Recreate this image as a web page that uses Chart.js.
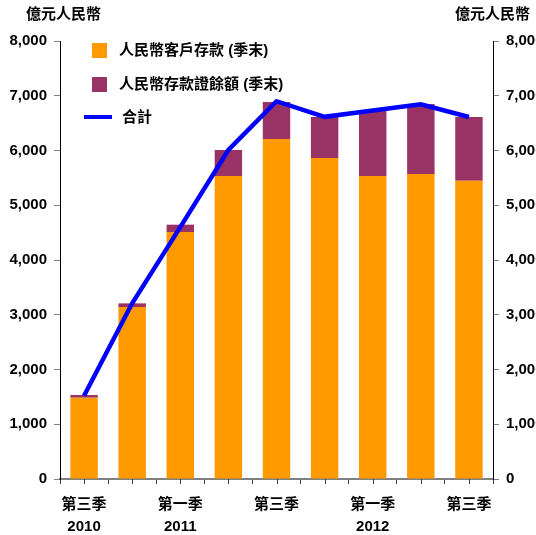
<!DOCTYPE html>
<html>
<head>
<meta charset="utf-8">
<script src="https://cdn.jsdelivr.net/npm/chart.js@4"></script>
<style>
  html, body { margin: 0; padding: 0; background: #fff; overflow: hidden; }
  #wrap { width: 536px; height: 535px; overflow: hidden; position: relative; }
  canvas { display: block; }
</style>
</head>
<body>
<div id="wrap"><canvas id="chart" width="580" height="535"></canvas></div>
<script>
// 2010 Q3 .. 2012 Q3
const quarters = ["第三季", "", "第一季", "", "第三季", "", "第一季", "", "第三季"];
const years = ["2010", "", "2011", "", "", "", "2012", "", ""];

// 億元人民幣
const customerDeposits = [1485, 3141, 4511, 5534, 6210, 5863, 5534, 5571, 5449];
const certificatesOfDeposit = [49, 67, 134, 475, 676, 749, 1193, 1278, 1163];
const totals = [1520, 3210, 4600, 6009, 6900, 6615, 6730, 6845, 6612];

const yTicks = [0, 1000, 2000, 3000, 4000, 5000, 6000, 7000, 8000];

const FONT = '"Liberation Sans", Arial, "Noto Sans CJK TC", sans-serif';
const ORANGE = "#FF9900";
const PURPLE = "#993366";
const BLUE = "#0000FF";

const labels = quarters.map((q, i) => [q, years[i]]);

// Unit titles, legend and the half-step tick marks on the x axis
const extras = {
  id: "extras",
  afterDraw(chart) {
    const ctx = chart.ctx;
    const xs = chart.scales.x;
    ctx.save();

    ctx.strokeStyle = "#404040";
    ctx.lineWidth = 1;
    labels.forEach((_, i) => {
      const px = Math.round(xs.getPixelForValue(i)) + 0.5;
      ctx.beginPath();
      ctx.moveTo(px, xs.top);
      ctx.lineTo(px, xs.top + 5);
      ctx.stroke();
    });

    ctx.fillStyle = "#000";
    ctx.font = "bold 15px " + FONT;
    ctx.textBaseline = "middle";
    ctx.textAlign = "left";
    ctx.fillText("億元人民幣", 26, 15);
    ctx.fillText("億元人民幣", 455, 15);

    ctx.fillStyle = ORANGE;
    ctx.fillRect(92, 43, 15, 15);
    ctx.fillStyle = PURPLE;
    ctx.fillRect(92, 77, 15, 15);
    ctx.strokeStyle = BLUE;
    ctx.lineWidth = 4;
    ctx.beginPath();
    ctx.moveTo(84, 117);
    ctx.lineTo(112, 117);
    ctx.stroke();

    ctx.fillStyle = "#000";
    ctx.fillText("人民幣客戶存款 (季末)", 119, 51);
    ctx.fillText("人民幣存款證餘額 (季末)", 119, 85);
    ctx.fillText("合計", 122, 118);
    ctx.restore();
  },
};

const yAxis = (position, width) => ({
  position,
  stacked: true,
  min: 0,
  max: 8000,
  afterBuildTicks: (scale) => { scale.ticks = yTicks.map((v) => ({ value: v })); },
  afterFit: (scale) => { scale.width = width; },
  grid: { drawOnChartArea: false, drawTicks: true, tickLength: 6, color: "#808080" },
  border: { display: true, color: "#000", width: 1 },
  ticks: {
    color: "#000",
    padding: 7,
    font: { family: FONT, size: 15, weight: "bold" },
    callback: (v) => v.toLocaleString("en-US"),
  },
});

new Chart(document.getElementById("chart"), {
  data: {
    labels,
    datasets: [
      {
        type: "line",
        label: "合計",
        data: totals,
        borderColor: BLUE,
        borderWidth: 4.5,
        pointRadius: 0,
        tension: 0,
        stack: "total",
        order: 0,
      },
      {
        type: "bar",
        label: "人民幣客戶存款 (季末)",
        data: customerDeposits,
        backgroundColor: ORANGE,
        categoryPercentage: 1,
        barPercentage: 0.57,
        stack: "deposits",
        order: 1,
      },
      {
        type: "bar",
        label: "人民幣存款證餘額 (季末)",
        data: certificatesOfDeposit,
        backgroundColor: PURPLE,
        categoryPercentage: 1,
        barPercentage: 0.57,
        stack: "deposits",
        order: 1,
      },
    ],
  },
  options: {
    responsive: false,
    animation: false,
    layout: { padding: { top: 41, left: 0, right: 0, bottom: 0 } },
    plugins: { legend: { display: false }, tooltip: { enabled: false } },
    scales: {
      x: {
        stacked: true,
        offset: true,
        afterFit: (scale) => { scale.height = 56; },
        grid: { offset: true, drawOnChartArea: false, drawTicks: true, tickLength: 5, color: "#404040" },
        border: { display: true, color: "#808080", width: 2 },
        ticks: {
          color: "#000",
          autoSkip: false,
          maxRotation: 0,
          padding: 10,
          font: { family: FONT, size: 15, weight: "bold", lineHeight: 1.47 },
        },
      },
      y: yAxis("left", 60),
      y2: yAxis("right", 87),
    },
  },
  plugins: [extras],
});
</script>
</body>
</html>
